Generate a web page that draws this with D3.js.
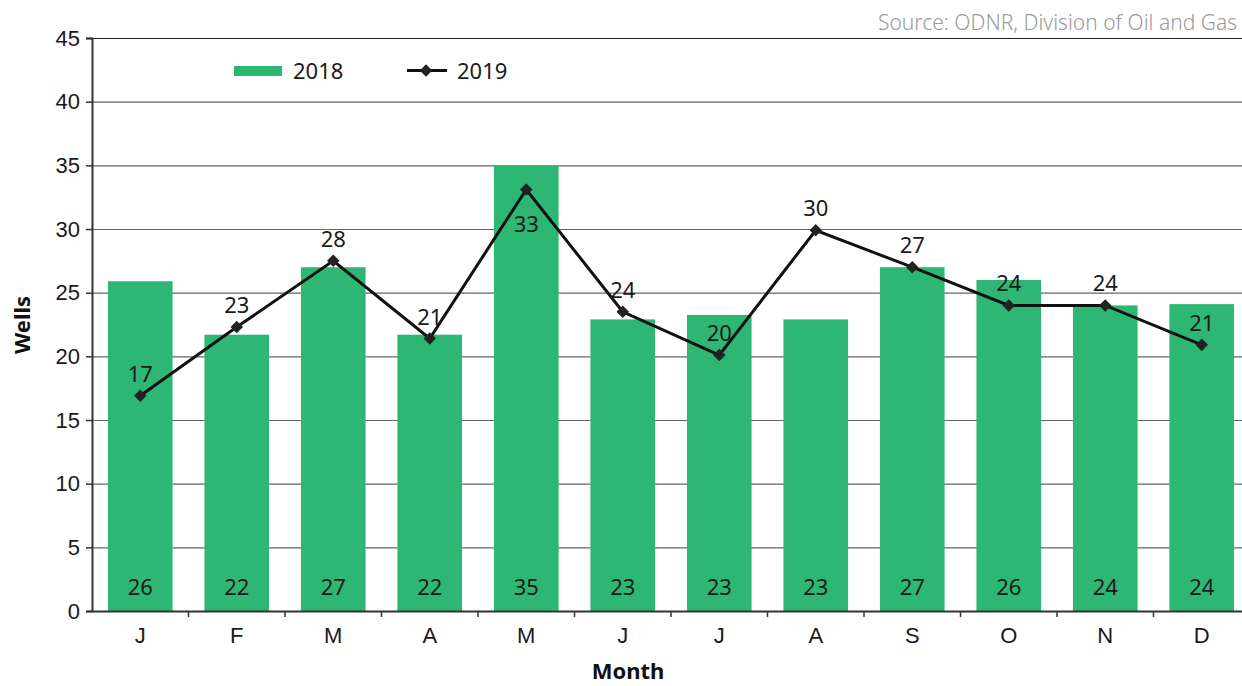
<!DOCTYPE html>
<html>
<head>
<meta charset="utf-8">
<script src="https://cdn.jsdelivr.net/npm/d3@7"></script>
<style>
  body { margin: 0; background: #fff; }
  svg { font-family: "Noto Sans", Lato, sans-serif; }
</style>
</head>
<body>
<script>
var months = ['J', 'F', 'M', 'A', 'M', 'J', 'J', 'A', 'S', 'O', 'N', 'D'];
var wells2018 = [25.9, 21.7, 27.0, 21.7, 35.0, 22.9, 23.25, 22.9, 27.0, 26.0, 24.0, 24.1];
var labels2018 = ['26', '22', '27', '22', '35', '23', '23', '23', '27', '26', '24', '24'];
var wells2019 = [16.9, 22.3, 27.5, 21.4, 33.1, 23.5, 20.1, 29.9, 27.0, 24.0, 24.0, 20.9];
var labels2019 = ['17', '23', '28', '21', '33', '24', '20', '30', '27', '24', '24', '21'];
var yTicks = [0, 5, 10, 15, 20, 25, 30, 35, 40, 45];

var width = 1242, height = 686;
var margin = {left: 92, right: -8, top: 38, bottom: 75};

var svg = d3.select('body').append('svg').attr('width', width).attr('height', height);

var x = d3.scaleBand().domain(d3.range(months.length))
  .range([margin.left, width - margin.right]).paddingInner(0.33).paddingOuter(0.165);
var xOuter = d3.scaleBand().domain(d3.range(months.length))
  .range([margin.left, width - margin.right]);
var y = d3.scaleLinear().domain([0, 45]).range([height - margin.bottom, margin.top]);

// gridlines
svg.append('g').selectAll('line').data(yTicks.slice(1)).enter().append('line')
  .attr('x1', margin.left).attr('x2', width)
  .attr('y1', function (d) { return y(d) + 0.5; })
  .attr('y2', function (d) { return y(d) + 0.5; })
  .attr('stroke', function (d) { return d === 45 ? '#222' : '#666'; })
  .attr('stroke-width', 1.2);

// bars
svg.append('g').selectAll('rect').data(wells2018).enter().append('rect')
  .attr('x', function (d, i) { return x(i); })
  .attr('width', x.bandwidth())
  .attr('y', function (d) { return y(d); })
  .attr('height', function (d) { return y(0) - y(d); })
  .attr('fill', '#2eb774');

svg.append('g').selectAll('text').data(labels2018).enter().append('text')
  .attr('x', function (d, i) { return x(i) + x.bandwidth() / 2; })
  .attr('y', y(0) - 16)
  .attr('text-anchor', 'middle')
  .attr('font-size', 22).attr('fill', '#1a1a1a')
  .text(function (d) { return d; });

// axes
var yAxis = svg.append('g').attr('transform', 'translate(' + margin.left + ',0)')
  .call(d3.axisLeft(y).tickValues(yTicks).tickSize(6).tickPadding(6));
yAxis.select('.domain').attr('stroke', '#333').attr('stroke-width', 2);
yAxis.selectAll('.tick line').attr('stroke', '#333').attr('stroke-width', 1.5);
yAxis.selectAll('text').attr('font-size', 22).attr('fill', '#1a1a1a');

var xAxis = svg.append('g').attr('transform', 'translate(0,' + y(0) + ')')
  .call(d3.axisBottom(xOuter).tickSize(0).tickPadding(16)
    .tickFormat(function (i) { return months[i]; }));
xAxis.select('.domain').attr('stroke', '#333').attr('stroke-width', 2);
xAxis.selectAll('text').attr('font-size', 22).attr('fill', '#1a1a1a');
svg.append('g').selectAll('line').data(d3.range(1, months.length)).enter().append('line')
  .attr('x1', function (i) { return xOuter(i); })
  .attr('x2', function (i) { return xOuter(i); })
  .attr('y1', y(0)).attr('y2', y(0) + 6)
  .attr('stroke', '#333').attr('stroke-width', 1.5);

// 2019 line
var cx = function (i) { return x(i) + x.bandwidth() / 2; };
var line = d3.line().x(function (d, i) { return cx(i); }).y(function (d) { return y(d); });
svg.append('path').datum(wells2019).attr('d', line)
  .attr('fill', 'none').attr('stroke', '#111').attr('stroke-width', 3);

var diamond = d3.symbol().type(d3.symbolDiamond2).size(100);
svg.append('g').selectAll('path').data(wells2019).enter().append('path')
  .attr('d', diamond)
  .attr('transform', function (d, i) { return 'translate(' + cx(i) + ',' + y(d) + ')'; })
  .attr('fill', '#222');

// the May label sits under its point, inside the tall bar
svg.append('g').selectAll('text').data(wells2019).enter().append('text')
  .attr('x', function (d, i) { return cx(i); })
  .attr('y', function (d, i) { return i === 4 ? y(d) + 42 : y(d) - 14; })
  .attr('text-anchor', 'middle')
  .attr('font-size', 22).attr('fill', '#1a1a1a')
  .text(function (d, i) { return labels2019[i]; });

// axis titles
svg.append('text').attr('x', 628).attr('y', 679).attr('text-anchor', 'middle')
  .attr('font-size', 22).attr('font-weight', 'bold').attr('fill', '#111').text('Month');
svg.append('text').attr('transform', 'translate(30,325) rotate(-90)').attr('text-anchor', 'middle')
  .attr('font-size', 22).attr('font-weight', 'bold').attr('fill', '#111').text('Wells');

// source
svg.append('text').attr('x', 1237).attr('y', 30).attr('text-anchor', 'end')
  .attr('font-size', 21).attr('font-weight', 300).attr('fill', '#9a9a9a')
  .text('Source: ODNR, Division of Oil and Gas');

// legend
var legend = svg.append('g');
legend.append('rect').attr('x', 234).attr('y', 66).attr('width', 48).attr('height', 10).attr('fill', '#2eb774');
legend.append('text').attr('x', 293).attr('y', 79).attr('font-size', 22).attr('fill', '#1a1a1a').text('2018');
legend.append('line').attr('x1', 407).attr('x2', 447).attr('y1', 70.5).attr('y2', 70.5)
  .attr('stroke', '#111').attr('stroke-width', 3);
legend.append('path').attr('d', diamond).attr('transform', 'translate(426,70.5)').attr('fill', '#222');
legend.append('text').attr('x', 457).attr('y', 79).attr('font-size', 22).attr('fill', '#1a1a1a').text('2019');
</script>
</body>
</html>
